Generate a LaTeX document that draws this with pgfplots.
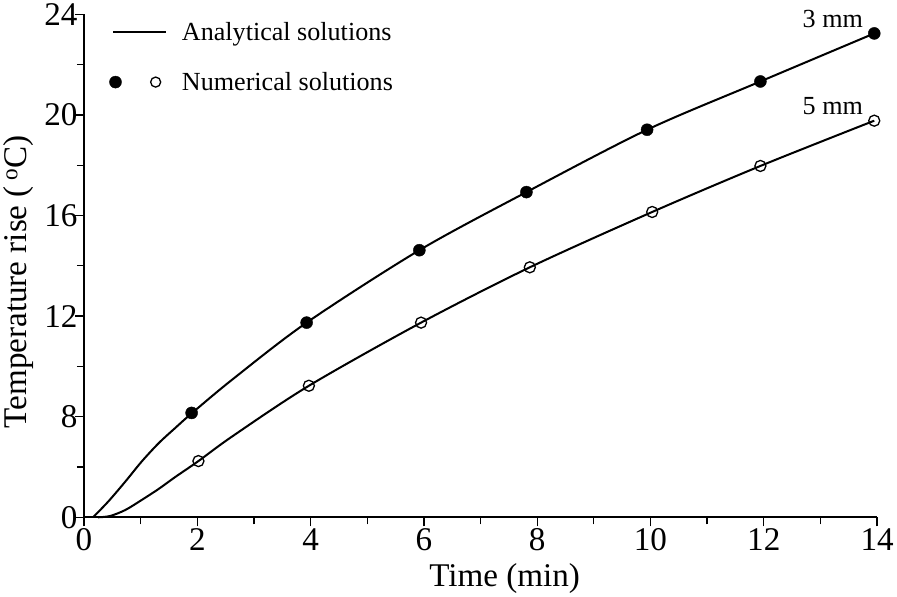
\documentclass[border=0pt]{standalone}
\usepackage{fontspec}
\setmainfont{Liberation Serif}
\usepackage{pgfplots}
\pgfplotsset{compat=1.18}

% analytical curves (label units of the y axis)
\pgfplotstableread{
x y
0.16 0
0.43 1.26
0.73 2.84
1.02 4.44
1.32 5.90
1.61 7.10
1.91 8.15
2.62 9.48
3.93 11.74
5.92 14.62
7.81 16.93
9.94 19.41
11.94 21.33
13.95 23.24
}\analyticA
\pgfplotstableread{
x y
0.25 0
0.46 0.10
0.73 0.58
1.02 1.38
1.32 2.26
1.61 3.20
2.02 4.47
2.62 6.44
3.97 9.23
5.95 11.74
7.87 13.94
10.03 16.14
11.94 17.97
13.95 19.77
}\analyticB
% numerical solutions
\pgfplotstableread{
x y
1.90 8.15
3.93 11.74
5.92 14.62
7.81 16.93
9.94 19.41
11.94 21.33
13.95 23.24
}\numA
\pgfplotstableread{
x y
2.02 4.47
3.97 9.23
5.95 11.74
7.87 13.94
10.03 16.14
11.94 17.97
13.95 19.77
}\numB

\pgfplotsset{
    lineleg/.style={legend image code/.code={
        \path (-4pt,0pt) (66pt,0pt);
        \draw[black, line width=2pt] (0pt,0pt) -- (52pt,0pt);}},
    dotleg/.style={legend image code/.code={
        \path (-4pt,0pt) (66pt,0pt);
        \fill[black] (2pt,0pt) circle (6pt);
        \draw[black, line width=1.3pt] (42pt,0pt) circle (5pt);}},
}

\begin{document}
\begin{tikzpicture}
\begin{axis}[
    scale only axis, width=790pt, height=501pt,
    xmin=0, xmax=14, ymin=0, ymax=24,
    clip=false,
    y coord trafo/.code={\pgfmathparse{#1<8 ? #1/2 : #1-4}},
    y coord inv trafo/.code={\pgfmathparse{#1<4 ? 2*#1 : #1+4}},
    axis lines*=left,
    axis line style={line width=1.6pt},
    tick align=outside,
    major tick length=9pt, minor tick length=7pt,
    every tick/.style={black, line width=1.3pt},
    xtick={0,2,...,14}, minor xtick={1,3,...,13},
    ytick={0,8,12,16,20,24}, yticklabels={0,8,12,16,20,24},
    minor ytick={4,10,14,18,22},
    /pgf/number format/assume math mode=true,
    tick label style={font=\fontsize{33}{38}\selectfont},
    xticklabel style={yshift=1pt},
    yticklabel style={xshift=6pt},
    xlabel={Time (min)}, ylabel={Temperature rise (\,\textsuperscript{o}C)},
    label style={font=\fontsize{33}{38}\selectfont},
    xlabel style={xshift=24pt, yshift=-5pt},
    ylabel style={xshift=-16pt, yshift=4pt},
    legend style={draw=none, fill=none, at={(0,1)}, anchor=north west,
        xshift=22pt, yshift=-4pt, font=\fontsize{26}{30}\selectfont,
        row sep=26pt},
    legend cell align=left,
]
\addlegendimage{lineleg}
\addlegendentry{Analytical solutions}
\addlegendimage{dotleg}
\addlegendentry{Numerical solutions}

\addplot[black, line width=2pt, smooth, forget plot] table[x=x, y=y] {\analyticA};
\addplot[black, line width=2pt, smooth, forget plot] table[x=x, y=y] {\analyticB};
\addplot[only marks, mark=*, mark size=6pt, black, forget plot] table[x=x, y=y] {\numA};
\addplot[only marks, mark=o, mark size=5.5pt, black, line width=1.3pt,
    mark options={fill=white}, forget plot] table[x=x, y=y] {\numB};

\node[anchor=south east, font=\fontsize{26}{30}\selectfont, inner sep=1pt]
    at (axis cs:13.77,23.4) {3 mm};
\node[anchor=south east, font=\fontsize{26}{30}\selectfont, inner sep=1pt]
    at (axis cs:13.77,19.95) {5 mm};
\end{axis}
\end{tikzpicture}
\end{document}
